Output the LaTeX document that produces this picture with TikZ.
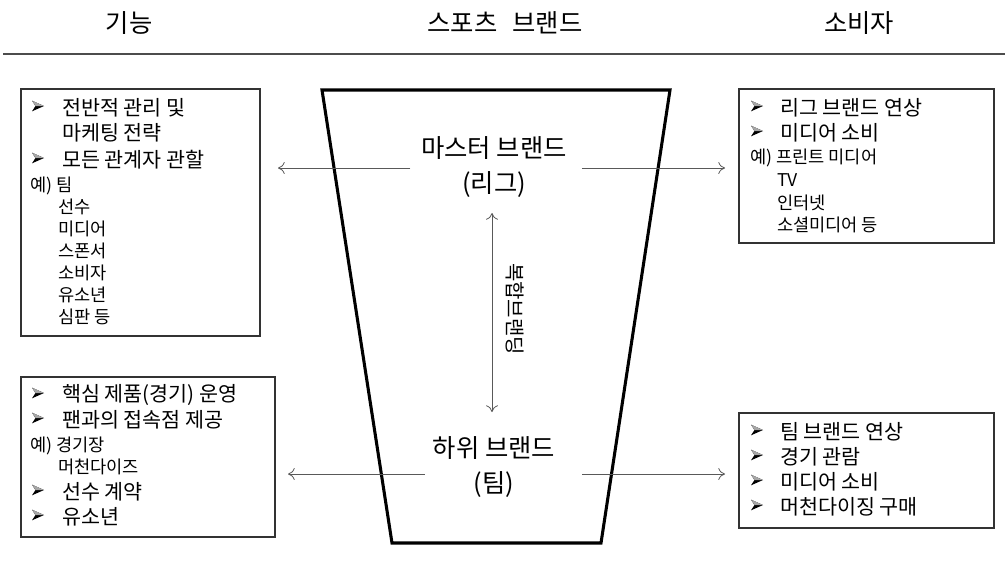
\documentclass[tikz,border=0pt]{standalone}
\usepackage{fontspec}
\setmainfont{Noto Sans CJK KR}
\usetikzlibrary{calc,arrows.meta}
\newcommand\arrbul{\tikz[baseline=-0.6ex,x=1pt,y=1pt]{\fill[black] (0,4) -- (9,0) -- (0,-4) -- (2.6,0) -- cycle;\fill[black!35] (0,4) -- (9,0) -- (2.6,0) -- cycle;}}
\begin{document}
\begin{tikzpicture}[x=0.75pt,y=-0.75pt,
  every node/.style={inner sep=0pt, outer sep=0pt},
  hdr/.style={font=\fontsize{19}{22}\selectfont},
  ttl/.style={font=\fontsize{19}{26.25}\selectfont, align=center},
  big/.style={font=\fontsize{15.5}{18}\selectfont, anchor=west},
  small/.style={font=\fontsize{13.2}{15}\selectfont, anchor=west},
  bul/.style={anchor=center},
  box/.style={draw=black!80, line width=0.9pt, anchor=north west},
  arr/.style={draw=black!65, line width=0.6pt, -{To[length=5pt,width=9pt]}},
  darr/.style={draw=black!65, line width=0.6pt, {To[length=5pt,width=9pt]}-{To[length=5pt,width=9pt]}},
]
\useasboundingbox (0,0) rectangle (1005,583);

% headers
\node[hdr] (h1) at (129,23) {기능};
\node[hdr] (h2) at (505,23) {스포츠\hspace{0.6em}브랜드};
\node[hdr] (h3) at (859,23) {소비자};
\draw[draw=black!70, line width=1.6pt] (3,54) -- (1005,54);

% trapezoid
\draw[line width=2.3pt, line join=miter] (322,90) -- (670,90) -- (601,543) -- (392,543) -- cycle;

% centre texts
\node[ttl] (master) at (494,167) {마스터 브랜드\\(리그)};
\node[ttl] (sub) at (494,467) {하위 브랜드\\(팀)};
\node[font=\fontsize{15}{18}\selectfont, rotate=-90] (cb) at (515,309) {복합브랜딩};
\draw[darr] ($(master.center)+(-2,46)$) -- ($(sub.center)+(-2,-55)$);

% boxes
\node[box, minimum width=179.25pt, minimum height=185.25pt] (f1) at (21,89) {};
\node[box, minimum width=190.5pt, minimum height=120pt] (f2) at (21,377) {};
\node[box, minimum width=191.25pt, minimum height=115.5pt] (c1) at (739,89) {};
\node[box, minimum width=191.25pt, minimum height=86.25pt] (c2) at (739,413) {};

% arrows
\coordinate (a1) at (278,168);
\coordinate (a2) at (725,168);
\coordinate (a3) at (288,474);
\coordinate (a4) at (725,474);
\draw[arr] ($(master.west)+(-11,1)$) -- (a1);
\draw[arr] ($(master.east)+(15,1)$) -- (a2);
\draw[arr] ($(sub.west)+(-8,7)$) -- (a3);
\draw[arr] ($(sub.east)+(27,7)$) -- (a4);

% box f1
\node[bul] (f1b1) at (38,106) {\arrbul};
\node[big] (f1t1) at (62,108) {전반적 관리 및};
\node[big] (f1t2) at (62,133) {마케팅 전략};
\node[bul] (f1b2) at (38,158) {\arrbul};
\node[big] (f1t3) at (62,160) {모든 관계자 관할};
\node[small] (f1s1) at (30,186) {예) 팀};
\node[small] (f1s2) at (58,207) {선수};
\node[small] (f1s3) at (58,229) {미디어};
\node[small] (f1s4) at (58,251) {스폰서};
\node[small] (f1s5) at (58,273) {소비자};
\node[small] (f1s6) at (58,295) {유소년};
\node[small] (f1s7) at (58,317) {심판 등};

% box f2
\node[bul] (f2b1) at (38,393) {\arrbul};
\node[big] (f2t1) at (62,395) {핵심 제품(경기) 운영};
\node[bul] (f2b2) at (38,418) {\arrbul};
\node[big] (f2t2) at (62,420) {팬과의 접속점 제공};
\node[small] (f2s1) at (30,446) {예) 경기장};
\node[small] (f2s2) at (58,467) {머천다이즈};
\node[bul] (f2b3) at (38,490) {\arrbul};
\node[big] (f2t3) at (62,492) {선수 계약};
\node[bul] (f2b4) at (38,515) {\arrbul};
\node[big] (f2t4) at (62,517) {유소년};

% box c1
\node[bul] (c1b1) at (757,106) {\arrbul};
\node[big] (c1t1) at (780,108) {리그 브랜드 연상};
\node[bul] (c1b2) at (757,131) {\arrbul};
\node[big] (c1t2) at (780,133) {미디어 소비};
\node[small] (c1s1) at (750,158) {예) 프린트 미디어};
\node[small] (c1s2) at (777,180) {TV};
\node[small] (c1s3) at (777,203) {인터넷};
\node[small] (c1s4) at (777,225) {소셜미디어 등};

% box c2
\node[bul] (c2b1) at (757,430) {\arrbul};
\node[big] (c2t1) at (780,432) {팀 브랜드 연상};
\node[bul] (c2b2) at (757,455) {\arrbul};
\node[big] (c2t2) at (780,457) {경기 관람};
\node[bul] (c2b3) at (757,480) {\arrbul};
\node[big] (c2t3) at (780,482) {미디어 소비};
\node[bul] (c2b4) at (757,505) {\arrbul};
\node[big] (c2t4) at (780,507) {머천다이징 구매};
\end{tikzpicture}
\end{document}
